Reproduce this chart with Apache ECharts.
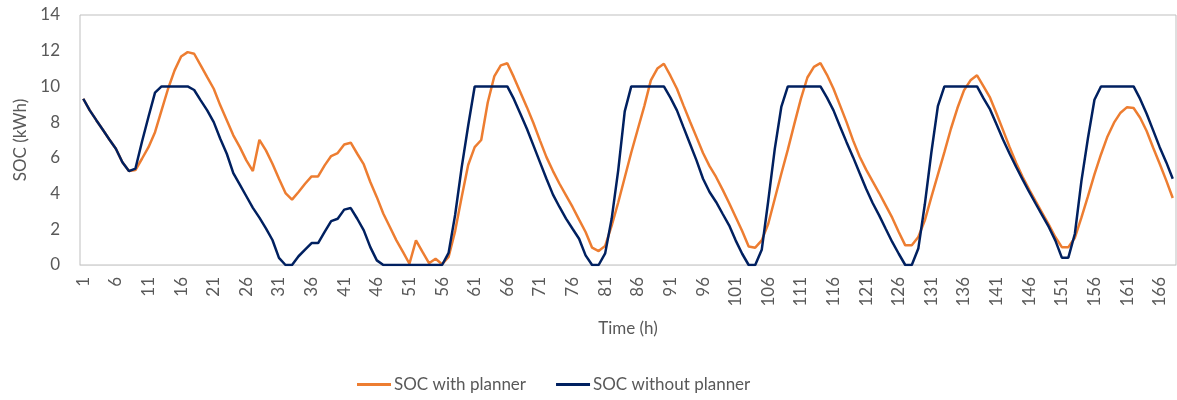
<!DOCTYPE html>
<html>
<head>
<meta charset="utf-8">
<script src="https://cdn.jsdelivr.net/npm/echarts@6/dist/echarts.min.js"></script>
<style>html,body{margin:0;padding:0;background:#fff}#c{width:1177px;height:400px}</style>
</head>
<body>
<div id="c"></div>
<script>
var hours = [];
for (var h = 1; h <= 168; h++) hours.push(String(h));

var yTicks = [0, 2, 4, 6, 8, 10, 12, 14];

var socWithPlanner = [
  9.31, 8.66, 8.11, 7.57, 7.03, 6.51, 5.75, 5.26, 5.32, 5.95,
  6.6, 7.44, 8.66, 9.87, 10.9, 11.68, 11.92, 11.83, 11.18, 10.52,
  9.87, 8.94, 8.1, 7.26, 6.6, 5.86, 5.26, 7.01, 6.42, 5.67,
  4.83, 4.03, 3.66, 4.09, 4.55, 4.96, 4.96, 5.58, 6.1, 6.27,
  6.75, 6.85, 6.23, 5.63, 4.65, 3.8, 2.87, 2.13, 1.38, 0.73,
  0.07, 1.38, 0.73, 0.1, 0.35, 0.04, 0.45, 1.9, 3.8, 5.6,
  6.6, 7.0, 9.1, 10.56, 11.18, 11.3, 10.52, 9.68, 8.84, 7.95,
  6.98, 6.04, 5.26, 4.55, 3.9, 3.25, 2.54, 1.85, 0.97, 0.78,
  1.07, 2.2, 3.5, 4.9, 6.3, 7.6, 8.9, 10.34, 11.0, 11.27,
  10.6, 9.87, 8.94, 8.04, 7.16, 6.27, 5.54, 4.93, 4.22, 3.47,
  2.69, 1.9, 1.04, 0.97, 1.38, 2.31, 3.71, 5.11, 6.46, 7.9,
  9.3, 10.5, 11.1, 11.3, 10.65, 9.87, 8.94, 8.0, 6.98, 6.08,
  5.34, 4.68, 4.03, 3.34, 2.65, 1.85, 1.1, 1.1, 1.57, 2.5,
  3.8, 5.06, 6.32, 7.63, 8.79, 9.78, 10.34, 10.62, 10.0, 9.37,
  8.47, 7.54, 6.6, 5.71, 4.93, 4.22, 3.56, 2.91, 2.26, 1.57,
  1.0, 1.0, 1.53, 2.65, 3.84, 5.07, 6.19, 7.2, 7.97, 8.53,
  8.84, 8.79, 8.25, 7.5, 6.57, 5.67, 4.74, 3.75
];

var socWithoutPlanner = [
  9.31, 8.66, 8.11, 7.57, 7.03, 6.51, 5.75, 5.26, 5.4, 6.9,
  8.3, 9.65, 10, 10, 10, 10, 10, 9.8, 9.22, 8.66,
  8.0, 7.07, 6.23, 5.15, 4.5, 3.85, 3.2, 2.65, 2.05, 1.4,
  0.4, 0, 0, 0.49, 0.86, 1.23, 1.23, 1.85, 2.46, 2.59,
  3.1, 3.19, 2.59, 1.94, 1.0, 0.26, 0, 0, 0, 0,
  0, 0, 0, 0, 0, 0, 0.68, 2.8, 5.45, 7.8,
  10, 10, 10, 10, 10, 10, 9.3, 8.47, 7.63, 6.7,
  5.76, 4.83, 3.94, 3.25, 2.6, 2.03, 1.47, 0.54, 0, 0,
  0.65, 2.6, 5.3, 8.6, 10, 10, 10, 10, 10, 10,
  9.37, 8.66, 7.72, 6.79, 5.86, 4.83, 4.09, 3.53, 2.87, 2.22,
  1.38, 0.63, 0, 0, 0.85, 3.6, 6.5, 8.85, 10, 10,
  10, 10, 10, 10, 9.37, 8.66, 7.76, 6.88, 6.04, 5.15,
  4.27, 3.47, 2.78, 2.03, 1.29, 0.63, 0, 0, 0.92, 3.4,
  6.3, 8.9, 10, 10, 10, 10, 10, 10, 9.33, 8.71,
  7.87, 7.01, 6.23, 5.49, 4.78, 4.09, 3.43, 2.78, 2.13, 1.38,
  0.41, 0.41, 1.75, 4.7, 7.1, 9.25, 10, 10, 10, 10,
  10, 10, 9.3, 8.47, 7.54, 6.6, 5.76, 4.83
];

var seriesNames = ['SOC with planner', 'SOC without planner'];
var seriesColors = ['#ED7D31', '#002060'];

var font = 'Lato, "Noto Sans", sans-serif';
var txt = '#595959';
var fs = 17;

var chart = echarts.init(document.getElementById('c'), null, {renderer: 'canvas'});
chart.setOption({
  animation: false,
  backgroundColor: '#fff',
  textStyle: {fontFamily: font, color: txt},
  grid: {left: 80, right: 1, top: 15, bottom: 135, show: true, borderColor: '#bfbfbf', borderWidth: 1, containLabel: false},
  legend: {
    left: 352, top: 371,
    icon: 'rect', itemWidth: 34, itemHeight: 3, itemGap: 30,
    textStyle: {fontFamily: font, fontSize: fs, color: txt, padding: [0, 0, 0, -2]},
    data: seriesNames
  },
  xAxis: {
    type: 'category',
    data: hours,
    boundaryGap: true,
    name: 'Time (h)',
    nameLocation: 'middle',
    nameGap: 55,
    nameTextStyle: {fontFamily: font, fontSize: fs, color: txt},
    axisLine: {lineStyle: {color: '#d9d9d9', width: 1}},
    axisTick: {show: false},
    axisLabel: {interval: 4, rotate: 90, margin: 12, fontFamily: font, fontSize: fs, color: txt},
    splitLine: {show: false}
  },
  yAxis: {
    type: 'value',
    min: yTicks[0], max: yTicks[yTicks.length - 1], interval: 2,
    name: 'SOC (kWh)',
    nameLocation: 'middle',
    nameGap: 47,
    nameTextStyle: {fontFamily: font, fontSize: fs, color: txt},
    axisLine: {show: false},
    axisTick: {show: false},
    axisLabel: {margin: 20, fontFamily: font, fontSize: fs, color: txt},
    splitLine: {show: false}
  },
  series: [
    {name: seriesNames[0], type: 'line', data: socWithPlanner, symbol: 'none',
     lineStyle: {color: seriesColors[0], width: 2.5}, itemStyle: {color: seriesColors[0]}},
    {name: seriesNames[1], type: 'line', data: socWithoutPlanner, symbol: 'none',
     lineStyle: {color: seriesColors[1], width: 2.5}, itemStyle: {color: seriesColors[1]}}
  ]
});
</script>
</body>
</html>
